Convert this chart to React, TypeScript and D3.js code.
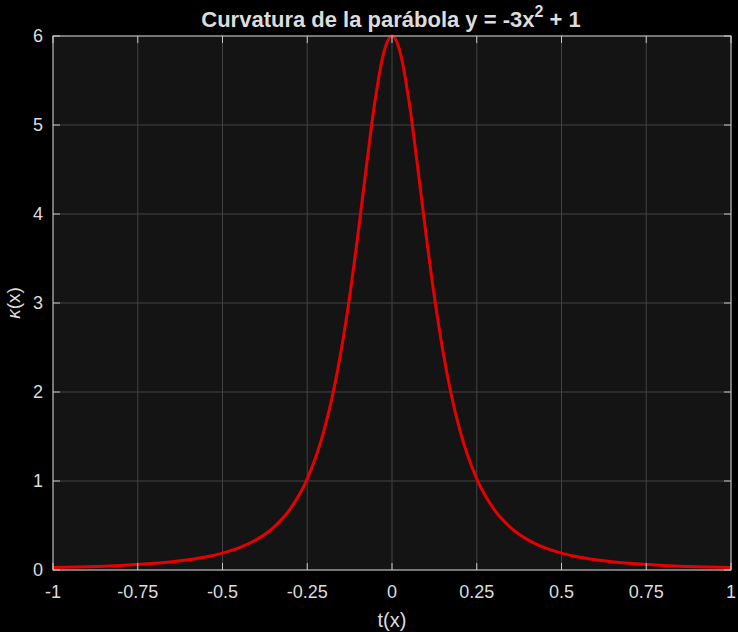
import * as d3 from 'd3'

const width = 738
const height = 632

const margin = { top: 36, right: 7, bottom: 62, left: 53 }

// values
const tValues = [
  -1, -0.9, -0.8, -0.7, -0.6, -0.55, -0.5, -0.45, -0.4, -0.35, -0.3, -0.25, -0.2, -0.175, -0.15, -0.125, -0.1, -0.075, -0.05, -0.025,
  0,
  0.025, 0.05, 0.075, 0.1, 0.125, 0.15, 0.175, 0.2, 0.25, 0.3, 0.35, 0.4, 0.45, 0.5, 0.55, 0.6, 0.7, 0.8, 0.9, 1,
]
const kappaValues = [
  0.027, 0.036, 0.051, 0.075, 0.115, 0.146, 0.19, 0.251, 0.341, 0.477, 0.687, 1.024, 1.574, 1.968, 2.464, 3.072, 3.783, 4.55, 5.272, 5.803,
  6,
  5.803, 5.272, 4.55, 3.783, 3.072, 2.464, 1.968, 1.574, 1.024, 0.687, 0.477, 0.341, 0.251, 0.19, 0.146, 0.115, 0.075, 0.051, 0.036, 0.027,
]

const xTicks = [-1, -0.75, -0.5, -0.25, 0, 0.25, 0.5, 0.75, 1]
const yTicks = [0, 1, 2, 3, 4, 5, 6]

const textColor = '#dcdcdc'
const axisColor = '#c8c8c8'
const gridColor = '#424242'

function App() {
  const innerWidth = width - margin.left - margin.right
  const innerHeight = height - margin.top - margin.bottom

  const xScale = d3.scaleLinear().domain([-1, 1]).range([0, innerWidth])
  const yScale = d3.scaleLinear().domain([0, 6]).range([innerHeight, 0])

  const data = tValues.map((t, i) => ({ t, k: kappaValues[i] }))

  const line = d3
    .line<{ t: number; k: number }>()
    .x(d => xScale(d.t))
    .y(d => yScale(d.k))
    .curve(d3.curveMonotoneX)

  const tickLen = 7

  return (
    <svg
      width={width}
      height={height}
      style={{ position: 'absolute', left: 0, top: 0, background: '#000' }}
      fontFamily="'Liberation Sans', Arial, sans-serif"
    >
      <rect width={width} height={height} fill="#000" />
      <g transform={`translate(${margin.left},${margin.top})`}>
        <rect width={innerWidth} height={innerHeight} fill="#141414" />

        {xTicks.map(t => (
          <line key={'gx' + t} x1={xScale(t)} x2={xScale(t)} y1={0} y2={innerHeight} stroke={gridColor} strokeWidth={1} />
        ))}
        {yTicks.map(t => (
          <line key={'gy' + t} x1={0} x2={innerWidth} y1={yScale(t)} y2={yScale(t)} stroke={gridColor} strokeWidth={1} />
        ))}

        <path d={line(data) ?? ''} fill="none" stroke="#e60000" strokeWidth={3} strokeLinejoin="round" />

        <rect width={innerWidth} height={innerHeight} fill="none" stroke={axisColor} strokeWidth={1} />

        {xTicks.map(t => (
          <g key={'tx' + t}>
            <line x1={xScale(t)} x2={xScale(t)} y1={innerHeight} y2={innerHeight - tickLen} stroke={axisColor} />
            <line x1={xScale(t)} x2={xScale(t)} y1={0} y2={tickLen} stroke={axisColor} />
            <text x={xScale(t)} y={innerHeight + 28} textAnchor="middle" fontSize={18} fill={textColor}>
              {t}
            </text>
          </g>
        ))}
        {yTicks.map(t => (
          <g key={'ty' + t}>
            <line x1={0} x2={tickLen} y1={yScale(t)} y2={yScale(t)} stroke={axisColor} />
            <line x1={innerWidth} x2={innerWidth - tickLen} y1={yScale(t)} y2={yScale(t)} stroke={axisColor} />
            <text x={-10} y={yScale(t)} dy="0.35em" textAnchor="end" fontSize={18} fill={textColor}>
              {t}
            </text>
          </g>
        ))}

        <text x={innerWidth / 2} y={innerHeight + 57} textAnchor="middle" fontSize={20} fill={textColor}>
          t(x)
        </text>
        <text
          transform={`translate(${-33},${innerHeight / 2}) rotate(-90)`}
          textAnchor="middle"
          fontSize={19}
          fill={textColor}
        >
          <tspan fontStyle="italic">κ</tspan>(x)
        </text>
      </g>
      <text x={margin.left + innerWidth / 2 - 1} y={27} textAnchor="middle" fontSize={22} fontWeight="bold" fill={textColor}>
        Curvatura de la parábola y = -3x
        <tspan dy={-10} fontSize={16}>2</tspan>
        <tspan dy={10}> + 1</tspan>
      </text>
    </svg>
  )
}

export default App
